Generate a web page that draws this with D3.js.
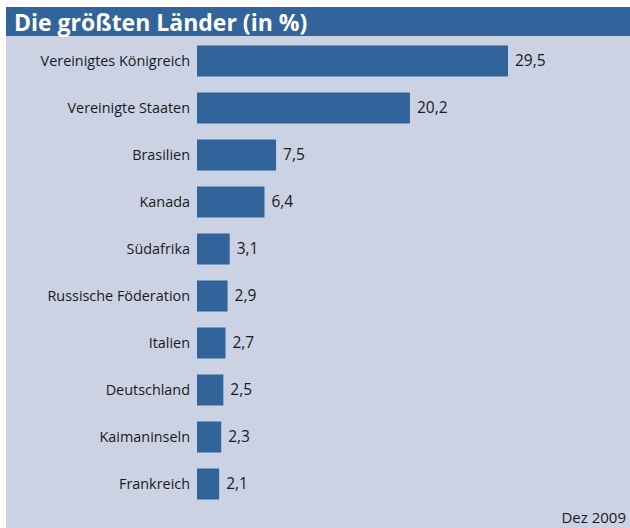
<!DOCTYPE html>
<html>
<head>
<meta charset="utf-8">
<script src="https://cdn.jsdelivr.net/npm/d3@7"></script>
<style>
  body { margin: 0; background: #fff; }
  text { font-family: "Open Sans", "Noto Sans", sans-serif; }
</style>
</head>
<body>
<div id="chart"></div>
<script>
// data
const countries = ["Vereinigtes Königreich", "Vereinigte Staaten", "Brasilien", "Kanada", "Südafrika",
  "Russische Föderation", "Italien", "Deutschland", "Kaimaninseln", "Frankreich"];
const shares = [29.5, 20.2, 7.5, 6.4, 3.1, 2.9, 2.7, 2.5, 2.3, 2.1];
const title = "Die größten Länder (in %)";
const note = "Dez 2009";

const width = 630, height = 528;
const barColor = "#31649b", panelColor = "#cbd2e4";

const svg = d3.select("#chart").append("svg")
  .attr("width", width)
  .attr("height", height);

// panel + title bar
svg.append("rect").attr("x", 6).attr("y", 7).attr("width", width - 6).attr("height", height - 7)
  .attr("fill", panelColor);
svg.append("rect").attr("x", 6).attr("y", 7).attr("width", width - 6).attr("height", 29)
  .attr("fill", barColor);
svg.append("text")
  .attr("x", 14).attr("y", 30.5)
  .attr("fill", "#fff")
  .attr("font-size", "23px")
  .attr("font-weight", "bold")
  .text(title);

// scales
const x = d3.scaleLinear().domain([0, 29.5]).range([197, 508]);
const y = d3.scaleBand().domain(countries).range([37.5, 507.5]).paddingInner(0.34).paddingOuter(0.17);

const rows = svg.append("g").selectAll("g")
  .data(countries)
  .enter().append("g");

rows.append("rect")
  .attr("x", x(0))
  .attr("y", d => y(d))
  .attr("width", (d, i) => x(shares[i]) - x(0))
  .attr("height", y.bandwidth())
  .attr("fill", barColor);

// category labels
rows.append("text")
  .attr("x", 190)
  .attr("y", d => y(d) + y.bandwidth() / 2)
  .attr("dy", "0.35em")
  .attr("text-anchor", "end")
  .attr("font-size", "14.4px")
  .attr("fill", "#1a1a1a")
  .text(d => d);

// value labels
rows.append("text")
  .attr("x", (d, i) => x(shares[i]) + 7)
  .attr("y", d => y(d) + y.bandwidth() / 2)
  .attr("dy", "0.35em")
  .attr("font-size", "15.5px")
  .attr("fill", "#1a1a1a")
  .text((d, i) => d3.format(".1f")(shares[i]).replace(".", ","));

svg.append("text")
  .attr("x", 626).attr("y", 523)
  .attr("text-anchor", "end")
  .attr("font-size", "15px")
  .attr("fill", "#1a1a1a")
  .text(note);
</script>
</body>
</html>
